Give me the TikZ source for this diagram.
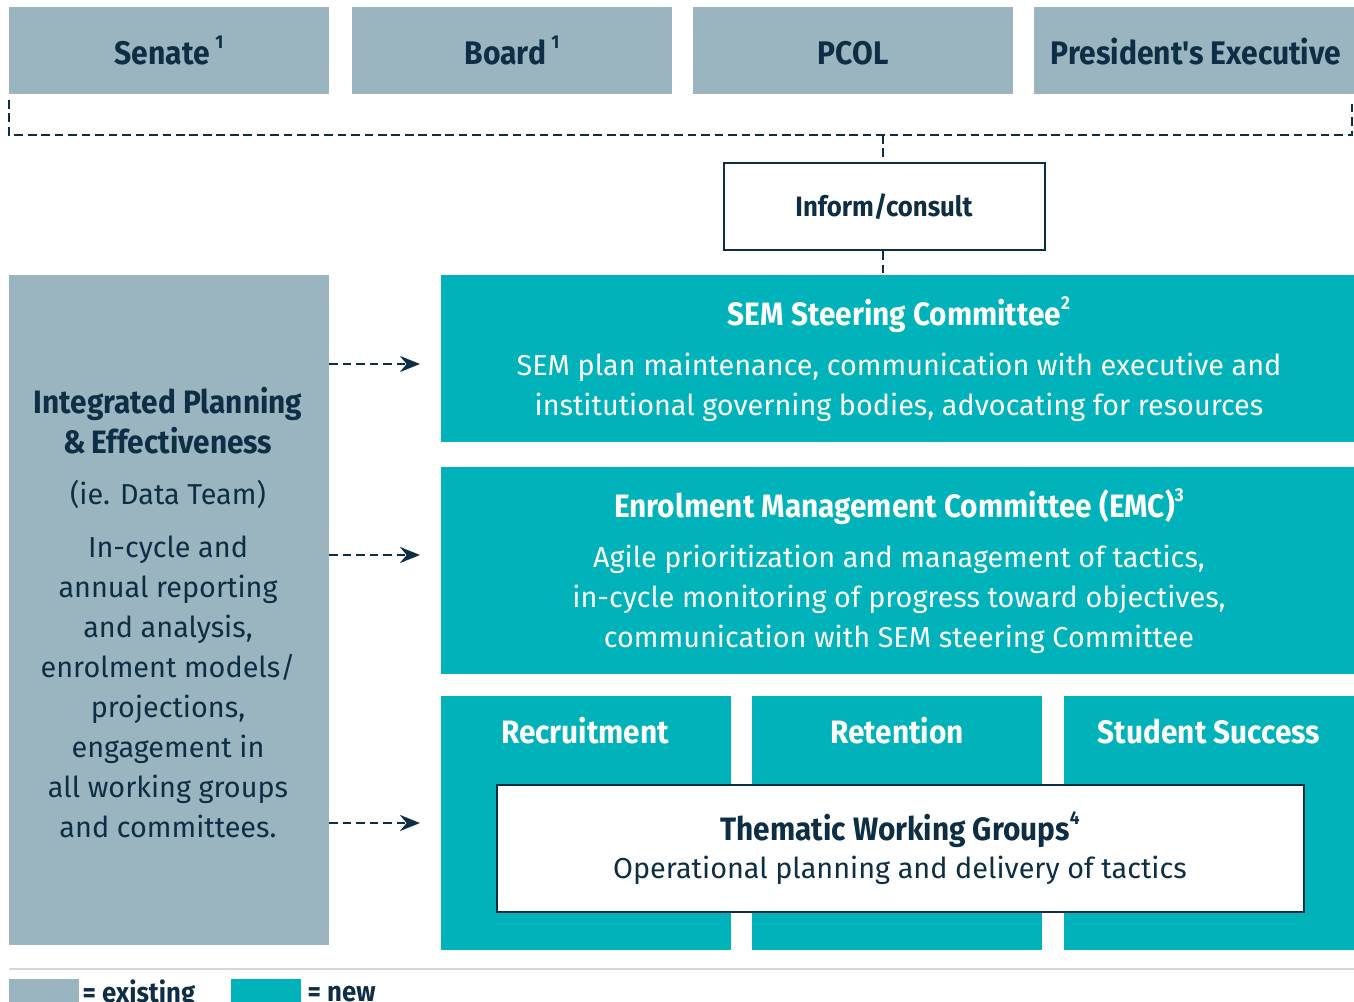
\documentclass[tikz,border=0pt]{standalone}
\usepackage{fontspec}
\setmainfont{Fira Sans}
\newfontfamily\hd[FakeStretch=0.92]{Fira Sans}
\usetikzlibrary{arrows.meta}
\definecolor{grey}{HTML}{9AB5C0}
\definecolor{teal}{HTML}{00B2B9}
\definecolor{navy}{HTML}{0D2E44}
\definecolor{sep}{HTML}{D6D6D6}
\tikzset{
  exist/.style={fill=grey, draw=none, inner sep=0pt},
  newbox/.style={fill=teal, draw=none, inner sep=0pt},
  wbox/.style={fill=white, draw=navy, line width=1.7pt, inner sep=0pt},
  tophead/.style={font=\hd\bfseries\fontsize{24.5}{28}\selectfont, text=navy, anchor=mid},
  head/.style={font=\hd\bfseries\fontsize{24.3}{28}\selectfont, anchor=mid},
  smallhead/.style={font=\hd\bfseries\fontsize{21}{25}\selectfont, anchor=mid},
  body/.style={font=\fontsize{21.6}{26}\selectfont, anchor=mid},
  dashln/.style={draw=navy, line width=2.1pt, dash pattern=on 6.5pt off 3.6pt},
  arr/.style={dashln, -{Stealth[length=15pt, width=12pt, inset=5pt]}},
}
\newcommand{\sups}[1]{\raisebox{0.5em}{\fontsize{14}{14}\selectfont #1}}
\begin{document}
\begin{tikzpicture}[x=0.75pt, y=-0.75pt]
\useasboundingbox (0,0) rectangle (1354,1002);
% top boxes
\node[exist, minimum width=240pt, minimum height=65.25pt] (senate) at (169,50.5) {};
\node[exist, minimum width=240pt, minimum height=65.25pt] (board) at (512,50.5) {};
\node[exist, minimum width=240pt, minimum height=65.25pt] (pcol) at (853,50.5) {};
\node[exist, minimum width=240pt, minimum height=65.25pt] (pres) at (1194,50.5) {};
\node[tophead] at (169,61) {Senate\,\sups{1}};
\node[tophead] at (512,61) {Board\,\sups{1}};
\node[tophead] at (853,61) {PCOL};
\node[tophead] at (1196,61) {President's Executive};
% dashed frame
\coordinate (fl) at (9,100);
\coordinate (fr) at (1352,100);
\coordinate (fm) at (883,135);
\draw[dashln] (fl) -- (9,135) -- (1352,135) -- (fr);
% inform
\node[wbox, minimum width=240.75pt, minimum height=65.25pt] (inform) at (884.5,206.5) {};
\node[smallhead, text=navy] at (884,213) {Inform/consult};
% left box
\node[exist, minimum width=240pt, minimum height=502.5pt] (ipe) at (169,610) {};
\node[head, text=navy] at (168,410) {Integrated Planning};
\node[head, text=navy] at (168,450) {\&\,Effectiveness};
\foreach \t/\yy in {{(ie. Data Team)}/501, {In-cycle and}/554, {annual reporting}/594, {and analysis,}/634, {enrolment models/}/674, {projections,}/714, {engagement in}/754, {all working groups}/794, {and committees.}/834}
  \node[body, text=navy] at (168,\yy) {\t};
% SEM
\node[newbox, minimum width=684.75pt, minimum height=125.25pt] (sem) at (897.5,358.5) {};
\node[head, text=white] at (899,322) {SEM Steering Committee\sups{2}};
\node[body, text=white] at (899,372) {SEM plan maintenance, communication with executive and};
\node[body, text=white] at (899,412) {institutional governing bodies, advocating for resources};
% EMC
\node[newbox, minimum width=684.75pt, minimum height=155.25pt] (emc) at (897.5,570.5) {};
\node[head, text=white] at (899,514) {Enrolment Management Committee (EMC)\sups{3}};
\node[body, text=white] at (899,564) {Agile prioritization and management of tactics,};
\node[body, text=white] at (899,604) {in-cycle monitoring of progress toward objectives,};
\node[body, text=white] at (899,644) {communication with SEM steering Committee};
% columns
\node[newbox, minimum width=217.5pt, minimum height=190.5pt] (recr) at (586,823) {};
\node[newbox, minimum width=217.5pt, minimum height=190.5pt] (ret) at (897,823) {};
\node[newbox, minimum width=217.5pt, minimum height=190.5pt] (succ) at (1209,823) {};
\node[head, text=white] at (585,740) {Recruitment};
\node[head, text=white] at (897,740) {Retention};
\node[head, text=white] at (1209,740) {Student Success};
% thematic
\node[wbox, minimum width=605.25pt, minimum height=95.25pt] (twg) at (900.5,848.5) {};
\node[head, text=navy] at (900,837) {Thematic Working Groups\sups{4}};
\node[body, text=navy] at (900,875) {Operational planning and delivery of tactics};
% connectors
\draw[dashln] (fm) -- (inform.north -| fm);
\draw[dashln] (inform.south -| fm) -- (sem.north -| fm);
\coordinate (a1) at (ipe.east |- 0,364);
\coordinate (a2) at (ipe.east |- 0,555);
\coordinate (a3) at (ipe.east |- 0,823);
\draw[arr] (a1) -- (420,364);
\draw[arr] (a2) -- (420,555);
\draw[arr] (a3) -- (420,823);
% legend
\draw[sep, line width=1pt] (9,969) -- (1354,969);
\node[exist, minimum width=52.5pt, minimum height=18pt] (lg1) at (44,991) {};
\node[newbox, minimum width=52.5pt, minimum height=18pt] (lg2) at (266,991) {};
\node[smallhead, text=navy, anchor=west] at (78,994) {= existing};
\node[smallhead, text=navy, anchor=west] at (303,994) {= new};
\end{tikzpicture}
\end{document}
